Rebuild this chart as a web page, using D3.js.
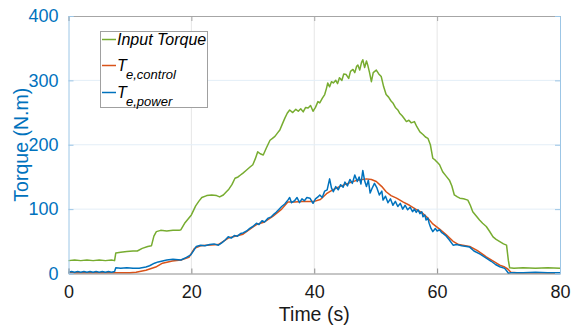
<!DOCTYPE html>
<html>
<head>
<meta charset="utf-8">
<script src="https://cdn.jsdelivr.net/npm/d3@7"></script>
<style>
  body { margin: 0; background: #fff; }
  svg { display: block; font-family: "Liberation Sans", Arial, sans-serif; }
</style>
</head>
<body>
<div id="chart"></div>
<script>
// data
var xTicks = [0, 20, 40, 60, 80];
var yTicks = [0, 100, 200, 300, 400];

var tInput = [0, 1, 2, 3, 4, 5, 6, 7, 7.5, 7.7, 8.5, 9.5, 10.5, 11.2, 12, 12.9, 13.5, 13.9, 14.3, 15, 16, 17, 18, 18.3, 18.9, 19.5, 20, 20.7, 21.2, 21.7, 22.5, 23.3, 24.1, 24.6, 25.2, 25.7, 26.1, 26.6, 27.1, 27.6, 28, 28.4, 28.9, 29.5, 30, 30.4, 30.8, 31.2, 31.7, 32.2, 32.8, 33.2, 33.6, 34, 34.4, 34.8, 35.2, 35.6, 36, 36.5, 37, 37.4, 37.8, 38.2, 38.6, 39, 39.4, 39.8, 40.2, 40.6, 40.9, 41.3, 41.7, 42, 42.2, 42.5, 42.8, 43.1, 43.5, 43.8, 44.1, 44.5, 44.8, 45.2, 45.6, 45.9, 46.3, 46.6, 46.9, 47.1, 47.4, 47.7, 47.9, 48.2, 48.5, 48.7, 49, 49.3, 49.6, 50.1, 50.5, 50.9, 51.3, 51.7, 52.1, 52.5, 52.8, 53.2, 53.6, 53.9, 54.3, 54.7, 55, 55.4, 55.8, 56.3, 56.7, 57.2, 57.7, 58.1, 58.5, 58.9, 59.3, 59.7, 60.1, 60.4, 60.9, 61.4, 62, 62.4, 62.8, 63.3, 63.7, 64.3, 65, 65.4, 65.8, 66.3, 66.9, 67.4, 68, 68.5, 69.1, 69.6, 70.2, 70.8, 71.3, 71.6, 71.8, 72.5, 74, 76, 78, 80];
var input = [20, 21, 20, 21, 20, 21, 20, 21, 20, 32, 33, 34, 35, 35, 39, 42, 43, 58, 65, 67, 66, 67, 67, 68, 78, 85, 91, 105, 112, 118, 121, 122, 121, 119, 122, 127, 131, 138, 148, 150, 153, 156, 160, 165, 169, 178, 189, 186, 184, 195, 207, 210, 213, 218, 223, 232, 241, 249, 254, 250, 255, 252, 256, 251, 258, 257, 261, 252, 258, 267, 265, 272, 278, 288, 296, 290, 298, 296, 300, 295, 304, 300, 310, 309, 303, 314, 317, 312, 322, 324, 316, 328, 332, 320, 330, 324, 312, 298, 312, 316, 310, 306, 290, 278, 274, 268, 265, 258, 254, 249, 245, 240, 236, 238, 234, 236, 228, 220, 216, 212, 210, 200, 179, 176, 172, 169, 158, 152, 145, 136, 122, 119, 117, 116, 114, 106, 96, 90, 83, 78, 73, 66, 57, 53, 49.5, 46, 44, 20, 9, 8, 9, 8, 9, 8];

var tControl = [0, 7, 10, 11, 12.6, 14.2, 15.3, 16.9, 18.3, 19.6, 20.5, 21.5, 22.5, 24.4, 26, 28.4, 30.6, 31.9, 33.3, 34.7, 35.7, 36.8, 38, 40, 41, 42, 43, 44.1, 45.5, 47, 48.5, 49.3, 50.1, 51, 51.7, 52.5, 53.4, 54.5, 55.5, 56.5, 57.6, 58.5, 59.3, 60.4, 61.5, 62.6, 63.5, 65.3, 66.5, 68, 69, 70.2, 71, 71.5, 72, 73, 80];
var control = [1, 1, 1, 2, 5, 10, 16, 19.5, 21, 25, 39, 43, 44, 45, 55, 61, 76, 80, 89, 100, 111, 111, 112, 112, 115, 124, 130, 135, 140, 145, 147, 146, 143, 135, 127, 121, 117, 111, 106, 100, 94, 86, 77, 69, 60, 50, 45, 42, 36, 26, 20, 13, 10, 7, 2, 1, 1];

var tPower = [0, 0.5, 1, 1.5, 2, 2.5, 3, 3.5, 4, 4.5, 5, 5.5, 6, 6.5, 7, 7.5, 7.7, 8.5, 9.5, 10.5, 11.5, 12.6, 13.2, 14, 14.6, 15.3, 16, 17, 18.3, 19.2, 19.9, 20.4, 20.8, 21.5, 22.2, 23, 23.7, 24.4, 25, 25.5, 26, 26.5, 27, 27.5, 28, 28.4, 29, 29.5, 30, 30.6, 31, 31.5, 31.9, 32.5, 33, 33.3, 33.8, 34.2, 34.7, 35.2, 35.7, 36, 36.3, 36.8, 37.2, 37.6, 38, 38.4, 38.8, 39.3, 39.8, 40.2, 40.6, 40.9, 41.3, 41.7, 42.1, 42.5, 42.8, 43.1, 43.5, 43.9, 44.3, 44.7, 45, 45.4, 45.8, 46.2, 46.6, 47, 47.3, 47.6, 47.9, 48.2, 48.5, 48.8, 49.1, 49.4, 49.8, 50.2, 50.6, 51, 51.2, 51.6, 52, 52.4, 52.8, 53.2, 53.6, 54, 54.4, 54.8, 55.2, 55.6, 56, 56.3, 56.6, 56.9, 57.2, 57.5, 57.7, 58, 58.2, 58.5, 58.7, 59, 59.3, 59.7, 60, 60.4, 60.7, 61, 61.5, 62, 62.6, 63.2, 64, 64.8, 65.3, 66, 67, 68, 68.8, 69.5, 70.2, 71, 71.4, 71.6, 72, 74, 76, 78, 80];
var power = [2, 3, 2, 3, 2, 3, 2, 3, 2, 3, 2, 3, 2, 3, 2, 3, 9, 8, 9, 8, 8, 10, 12, 16, 18, 19.5, 21, 22, 21, 25, 29, 36, 42, 44, 43, 45, 46, 44, 48, 52, 57, 55, 59, 58, 62, 63, 66, 70, 73, 78, 76, 82, 80, 86, 88, 91, 95, 99, 104, 108, 114, 118, 110, 113, 118, 110, 116, 113, 118, 117, 109, 116, 119, 122, 118, 128, 130, 147, 133, 127, 135, 130, 138, 134, 142, 136, 146, 140, 153, 143, 150, 139, 160, 144, 135, 145, 125, 132, 140, 133, 122, 128, 114, 120, 110, 116, 106, 112, 104, 109, 100, 106, 99, 103, 96, 100, 95, 99, 93, 96, 88, 91, 83, 86, 78, 70, 65, 70, 66, 68, 64, 62, 58, 52, 44, 45, 43, 42, 41, 35, 30, 24, 19, 14, 10.5, 8, 3, 0.5, 1, 1, 2, 1, 1];

var svgWidth = 587, svgHeight = 332;
var plotLeft = 68.5, plotRight = 560, plotTop = 16, plotBottom = 273.5;

var svg = d3.select("#chart").append("svg")
  .attr("width", svgWidth)
  .attr("height", svgHeight);

var xScale = d3.scaleLinear().domain([0, 80]).range([plotLeft, plotRight]);
var yScale = d3.scaleLinear().domain([0, 400]).range([plotBottom, plotTop]);

// grid
svg.append("g").selectAll("line")
  .data(xTicks.slice(1, -1))
  .enter().append("line")
  .attr("x1", d => xScale(d)).attr("x2", d => xScale(d))
  .attr("y1", plotTop).attr("y2", plotBottom)
  .attr("stroke", "#e6e6e6").attr("stroke-width", 1);

svg.append("g").selectAll("line")
  .data(yTicks.slice(1, -1))
  .enter().append("line")
  .attr("x1", plotLeft).attr("x2", plotRight)
  .attr("y1", d => yScale(d)).attr("y2", d => yScale(d))
  .attr("stroke", "#e3eef7").attr("stroke-width", 1);

// lines
function drawLine(ts, vs, color) {
  var pts = ts.map((t, i) => [t, vs[i]]);
  svg.append("path")
    .datum(pts)
    .attr("fill", "none")
    .attr("stroke", color)
    .attr("stroke-width", 1.5)
    .attr("stroke-linejoin", "round")
    .attr("d", d3.line().x(d => xScale(d[0])).y(d => yScale(d[1])));
}
drawLine(tInput, input, "#77AC30");
drawLine(tControl, control, "#D95319");
drawLine(tPower, power, "#0072BD");

// axes
var xAxis = svg.append("g")
  .attr("transform", `translate(0, ${plotBottom})`)
  .call(d3.axisBottom(xScale).tickValues(xTicks).tickSize(-5).tickPadding(12));
xAxis.select(".domain").attr("stroke", "#8c8c8c");
xAxis.selectAll(".tick line").attr("stroke", "#8c8c8c");
xAxis.selectAll("text").attr("font-size", 18).attr("fill", "#1a1a1a")
  .attr("font-family", "Liberation Sans, Arial, sans-serif");

var xTop = svg.append("g")
  .attr("transform", `translate(0, ${plotTop})`)
  .call(d3.axisTop(xScale).tickValues(xTicks).tickSize(-5).tickFormat(""));
xTop.selectAll("path, line").attr("stroke", "#a6a6a6");

var yAxis = svg.append("g")
  .attr("transform", `translate(${plotLeft}, 0)`)
  .call(d3.axisLeft(yScale).tickValues(yTicks).tickSize(-5).tickPadding(10));
yAxis.selectAll("path, line").attr("stroke", "#9cc6e6");
yAxis.selectAll("text").attr("font-size", 18).attr("fill", "#0072BD")
  .attr("font-family", "Liberation Sans, Arial, sans-serif");

var yRight = svg.append("g")
  .attr("transform", `translate(${plotRight}, 0)`)
  .call(d3.axisRight(yScale).tickValues(yTicks).tickSize(-5).tickFormat(""));
yRight.selectAll("path, line").attr("stroke", "#9cc6e6");

// axis titles
svg.append("text")
  .attr("x", (plotLeft + plotRight) / 2).attr("y", 321)
  .attr("text-anchor", "middle")
  .attr("font-size", 19.5).attr("fill", "#1a1a1a")
  .text("Time (s)");

svg.append("text")
  .attr("transform", `translate(28, ${(plotTop + plotBottom) / 2}) rotate(-90)`)
  .attr("text-anchor", "middle")
  .attr("font-size", 19.5).attr("fill", "#0072BD")
  .text("Torque (N.m)");

// legend
var legend = svg.append("g");
legend.append("rect")
  .attr("x", 100.5).attr("y", 31.5).attr("width", 107).attr("height", 76)
  .attr("fill", "#fff").attr("stroke", "#a0a0a0");

var items = [
  { color: "#77AC30", y: 39.5, main: "Input Torque", sub: "" },
  { color: "#D95319", y: 65.5, main: "T", sub: "e,control" },
  { color: "#0072BD", y: 92.5, main: "T", sub: "e,power" }
];
items.forEach(function(it) {
  legend.append("line")
    .attr("x1", 102).attr("x2", 116)
    .attr("y1", it.y).attr("y2", it.y)
    .attr("stroke", it.color).attr("stroke-width", 1.5);
  var txt = legend.append("text")
    .attr("x", 117).attr("y", it.y + 5)
    .attr("font-size", 16).attr("font-style", "italic").attr("fill", "#000");
  txt.append("tspan").text(it.main);
  if (it.sub) {
    txt.append("tspan")
      .attr("x", 126).attr("dy", 8)
      .attr("font-size", 13)
      .text(it.sub);
  }
});
</script>
</body>
</html>
